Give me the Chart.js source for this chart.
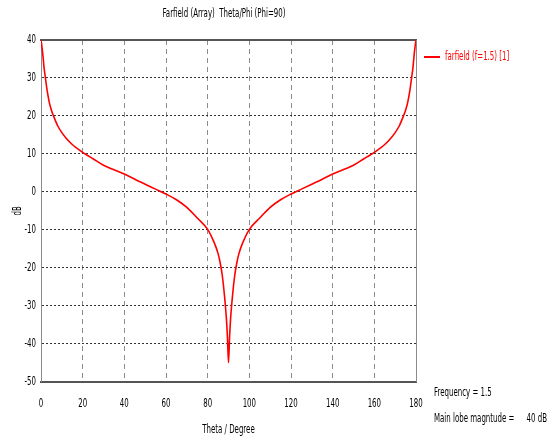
<!DOCTYPE html>
<html><head><meta charset="utf-8">
<script src="https://cdn.jsdelivr.net/npm/chart.js@4.4.1/dist/chart.umd.min.js"></script>
<style>html,body{margin:0;padding:0;background:#fff}canvas{display:block}</style>
</head><body>
<canvas id="c" width="549" height="438" style="width:549px;height:438px"></canvas>
<script>
// ---- data ----
const chartTitle = 'Farfield (Array)  Theta/Phi (Phi=90)';
const seriesLabel = 'farfield (f=1.5) [1]';
const xTitle = 'Theta / Degree';
const yTitle = 'dB';
const xTicks = [0, 20, 40, 60, 80, 100, 120, 140, 160, 180];
const yTicks = [40, 30, 20, 10, 0, -10, -20, -30, -40, -50];
const infoLines = ['Frequency = 1.5', 'Main lobe magntude ='];
const infoValue = '40 dB';
const theta = [0,0.5,1,1.5,2,3,4,5,6,8,10,12,14,16,18,20,22,25,30,35,40,45,50,55,60,65,70,75,80,83,85,86,87,88,89,89.5,
  90,
  90.5,91,92,93,94,95,97,100,105,110,115,120,125,130,135,140,145,150,155,158,160,162,164,166,168,170,172,174,175,176,177,178,178.5,179,179.5,180];
const farfieldDb = [40,38,35.5,32.5,30.5,26.5,23.5,21.5,20,17.4,15.6,14.2,13.0,12.0,11.2,10.4,9.7,8.7,7.0,5.8,4.7,3.3,2.0,0.7,-0.6,-2.1,-4.1,-6.9,-9.9,-13.2,-16.3,-18.7,-22.0,-27.0,-33.5,-38.5,
  -45,
  -38.5,-33.5,-27.0,-22.0,-18.7,-16.3,-13.2,-9.9,-6.9,-4.1,-2.1,-0.6,0.7,2.0,3.3,4.7,5.8,7.0,8.7,9.7,10.4,11.2,12.0,13.0,14.2,15.6,17.4,20,21.5,23.5,26.5,30.5,32.5,35.5,38,40];

// ---- condensed text rendering (reference font is very narrow) ----
const canvas = document.getElementById('c');
const ctx = canvas.getContext('2d');
const SX = 0.54;
const P = CanvasRenderingContext2D.prototype;
ctx.fillText = function (t, x, y, mw) {
  this.save(); this.translate(x, y); this.scale(SX, 1);
  if (mw !== undefined) P.fillText.call(this, t, 0, 0, mw / SX); else P.fillText.call(this, t, 0, 0);
  this.restore();
};
ctx.measureText = function (t) {
  const m = P.measureText.call(this, t);
  return { width: m.width * SX, actualBoundingBoxAscent: m.actualBoundingBoxAscent, actualBoundingBoxDescent: m.actualBoundingBoxDescent,
    actualBoundingBoxLeft: m.actualBoundingBoxLeft * SX, actualBoundingBoxRight: m.actualBoundingBoxRight * SX };
};

const FONT = 'DejaVu Sans';
Chart.defaults.font.family = FONT;
Chart.defaults.font.size = 13;
Chart.defaults.color = '#000';

const overlay = {
  id: 'overlay',
  afterDraw(chart) {
    const c = chart.ctx;
    c.save();
    c.font = '13px "' + FONT + '"';
    c.textBaseline = 'middle';
    // title
    c.fillStyle = '#000'; c.textAlign = 'center';
    c.fillText(chartTitle, 224, 14);
    // legend
    c.strokeStyle = '#ff0000'; c.lineWidth = 2;
    c.beginPath(); c.moveTo(424, 57); c.lineTo(440, 57); c.stroke();
    c.fillStyle = '#ff0000'; c.textAlign = 'left';
    c.fillText(chart.data.datasets[0].label, 445, 57);
    // info
    c.fillStyle = '#000';
    c.fillText(infoLines[0], 434, 393);
    c.fillText(infoLines[1], 434, 419);
    c.textAlign = 'right';
    c.fillText(infoValue, 547, 419);
    c.restore();
  }
};

new Chart(ctx, {
  type: 'line',
  data: {
    labels: theta,
    datasets: [{
      label: seriesLabel,
      data: theta.map((t, i) => ({ x: t, y: farfieldDb[i] })),
      borderColor: '#ff0000',
      borderWidth: 1.6,
      pointRadius: 0,
      cubicInterpolationMode: 'monotone',
      fill: false
    }]
  },
  plugins: [overlay],
  options: {
    responsive: false,
    animation: false,
    devicePixelRatio: 1,
    layout: { padding: { top: 40, right: 133, bottom: 0, left: 0 } },
    plugins: {
      legend: { display: false },
      tooltip: { enabled: false },
      title: { display: false }
    },
    scales: {
      x: {
        type: 'linear', position: 'bottom', min: 0, max: 180,
        afterBuildTicks: s => { s.ticks = xTicks.map(v => ({ value: v })); },
        afterFit: s => { s.height = 56.5; },
        ticks: { padding: 14, color: '#000', maxRotation: 0, autoSkip: false },
        grid: { drawTicks: false, lineWidth: 1,
          color: c => (c.tick && (c.tick.value === 0 || c.tick.value === 180)) ? 'rgba(0,0,0,0)' : '#8c8c8c' },
        border: { display: true, color: '#555', width: 2, dash: [5, 4] },
        title: { display: true, text: xTitle, color: '#000', padding: { top: 0, bottom: 1 } }
      },
      y: {
        type: 'linear', position: 'left', min: -50, max: 40,
        afterBuildTicks: s => { s.ticks = yTicks.map(v => ({ value: v })); },
        afterFit: s => { s.width = 41; },
        ticks: { padding: 5, color: '#000', autoSkip: false },
        grid: { drawTicks: false, lineWidth: 1,
          color: c => (c.tick && (c.tick.value === 40 || c.tick.value === -50)) ? 'rgba(0,0,0,0)' : '#333' },
        border: { display: true, color: '#8c8c8c', width: 1, dash: [2, 2] },
        title: { display: true, text: yTitle, color: '#000', padding: { top: 10, bottom: 10 } }
      },
      xTop: {
        type: 'linear', position: 'top', min: 0, max: 180,
        ticks: { display: false }, grid: { display: false, drawTicks: false },
        border: { display: true, color: '#555', width: 2 }
      },
      yRight: {
        type: 'linear', position: 'right', min: -50, max: 40,
        ticks: { display: false }, grid: { display: false, drawTicks: false },
        border: { display: true, color: '#8c8c8c', width: 1 }
      }
    }
  }
});
</script>
</body></html>
